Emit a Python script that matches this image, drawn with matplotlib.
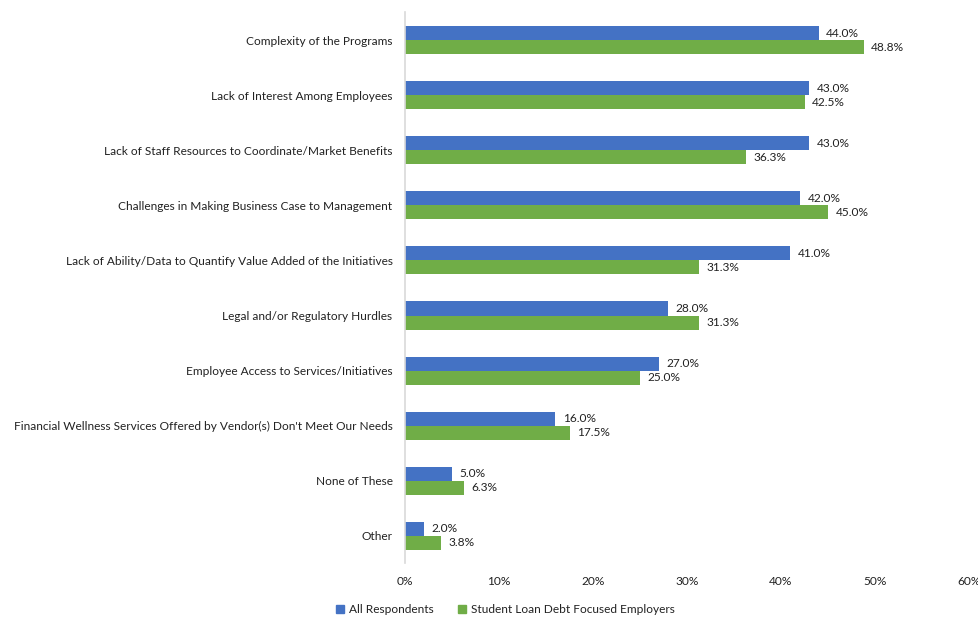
import numpy as np
import matplotlib.pyplot as plt
from matplotlib.patches import Patch
from matplotlib.ticker import FuncFormatter

plt.rcParams['font.family'] = ['Lato', 'DejaVu Sans']

categories = [
    "Complexity of the Programs",
    "Lack of Interest Among Employees",
    "Lack of Staff Resources to Coordinate/Market Benefits",
    "Challenges in Making Business Case to Management",
    "Lack of Ability/Data to Quantify Value Added of the Initiatives",
    "Legal and/or Regulatory Hurdles",
    "Employee Access to Services/Initiatives",
    "Financial Wellness Services Offered by Vendor(s) Don't Meet Our Needs",
    "None of These",
    "Other",
]
all_respondents = [44.0, 43.0, 43.0, 42.0, 41.0, 28.0, 27.0, 16.0, 5.0, 2.0]
student_loan = [48.8, 42.5, 36.3, 45.0, 31.3, 31.3, 25.0, 17.5, 6.3, 3.8]
series_names = ["All Respondents", "Student Loan Debt Focused Employers"]

blue = '#4472C4'
green = '#70AD47'
text_color = '#222222'
fs = 8.6

fig = plt.figure(figsize=(9.79, 6.18), dpi=100)
ax = fig.add_axes([0.4137, 0.0882, 0.5761, 0.8916])

y = np.arange(len(categories))
h = 0.255
ax.barh(y - h / 2, all_respondents, height=h, color=blue)
ax.barh(y + h / 2, student_loan, height=h, color=green)

for yi, v in zip(y, all_respondents):
    ax.text(v + 0.8, yi - h / 2, f"{v:.1f}%", va='center', ha='left',
            fontsize=fs, color=text_color)
for yi, v in zip(y, student_loan):
    ax.text(v + 0.8, yi + h / 2, f"{v:.1f}%", va='center', ha='left',
            fontsize=fs, color=text_color)

ax.set_xlim(0, 60)
ax.set_ylim(len(categories) - 0.5, -0.5)
ax.set_xticks(range(0, 61, 10))
ax.xaxis.set_major_formatter(FuncFormatter(lambda v, p: f"{v:.0f}%"))
ax.set_yticks(y)
ax.set_yticklabels(categories)
ax.tick_params(axis='both', length=0, labelsize=fs, colors=text_color)
ax.tick_params(axis='x', pad=9)
ax.tick_params(axis='y', pad=9)

for s in ['top', 'right', 'bottom']:
    ax.spines[s].set_visible(False)
ax.spines['left'].set_color('#D9D9D9')
ax.spines['left'].set_linewidth(1.2)

handles = [Patch(color=blue, label=series_names[0]),
           Patch(color=green, label=series_names[1])]
fig.legend(handles=handles, loc='lower center', bbox_to_anchor=(0.516, -0.013),
           ncol=2, frameon=False, fontsize=fs, handlelength=0.7,
           handleheight=0.7, handletextpad=0.4, columnspacing=2.0,
           labelcolor=text_color)

fig.savefig('out.png', dpi=100)
